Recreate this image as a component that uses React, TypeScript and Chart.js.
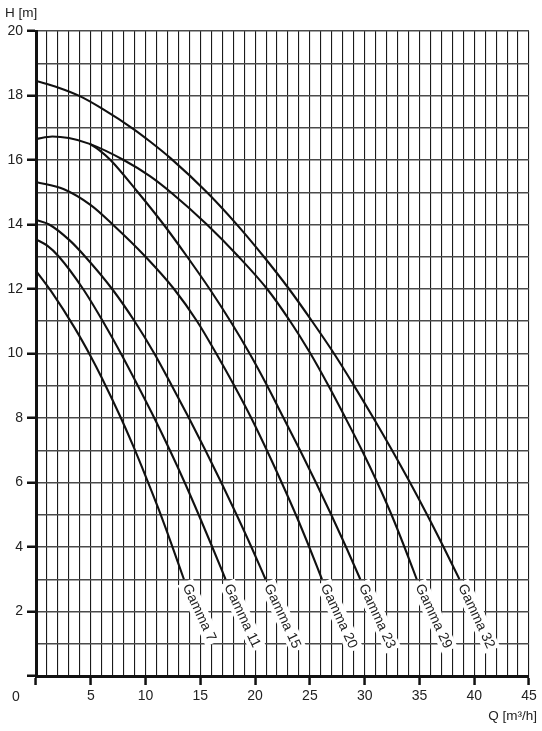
import React, { useEffect, useRef } from "react";
import { Chart, registerables } from "chart.js";

Chart.register(...registerables);

// ---- Data (Q in m³/h, H in m) ----
const SERIES_NAMES = ["Gamma 7", "Gamma 11", "Gamma 15", "Gamma 20", "Gamma 23", "Gamma 29", "Gamma 32"];

const G7_Q = [0, 1.5, 3.5, 5, 6, 7.7, 8.9, 10, 11.15, 12.3, 13.5];
const G7_H = [12.56, 11.87, 10.81, 9.91, 9.25, 8.04, 7.11, 6.2, 5.21, 4.15, 3.0];

const G11_Q = [0, 1, 2.1, 4.3, 6.1, 7.75, 9.3, 10.8, 12.22, 13.57, 14.85, 16.09, 17.3];
const G11_H = [13.54, 13.35, 13.0, 12.0, 11.0, 10.0, 9.0, 8.0, 7.0, 6.0, 5.0, 4.0, 3.0];

const G15_Q = [0, 1.2, 3.1, 4.5, 6.95, 9.0, 10.8, 12.4, 13.96, 15.46, 16.91, 18.31, 19.66, 20.95];
const G15_H = [14.14, 14.0, 13.5, 13.0, 12.0, 11.0, 10.0, 9.0, 8.0, 7.0, 6.0, 5.0, 4.0, 3.0];

const G20_Q = [0, 2.5, 5, 7, 10, 12.6, 14.7, 16.45, 18.1, 19.65, 21.07, 22.42, 23.72, 24.94, 26.1];
const G20_H = [15.32, 15.1, 14.6, 14.0, 13.0, 12.0, 11.0, 10.0, 9.0, 8.0, 7.0, 6.0, 5.0, 4.0, 3.0];

const G23_Q = [4.9, 5.8, 6.8, 9.3, 11.65, 13.8, 15.85, 17.75, 19.5, 21.1, 22.6, 24.1, 25.55, 26.95, 28.3, 29.6];
const G23_H = [16.5, 16.3, 16.0, 15.0, 14.0, 13.0, 12.0, 11.0, 10.0, 9.0, 8.0, 7.0, 6.0, 5.0, 4.0, 3.0];

const G29_Q = [0, 1.5, 3, 4.9, 8.0, 10.4, 12.3, 15.6, 18.5, 21.1, 23.2, 25.05, 26.7, 28.25, 29.75, 31.15, 32.45, 33.63, 34.75];
const G29_H = [16.65, 16.73, 16.68, 16.5, 16.0, 15.5, 15.0, 14.0, 13.0, 12.0, 11.0, 10.0, 9.0, 8.0, 7.0, 6.0, 5.0, 4.0, 3.0];

const G32_Q = [0, 2, 4, 6, 8.9, 10.5, 12.3, 15.6, 18.2, 20.8, 23.1, 25.2, 27.2, 29.0, 30.8, 32.5, 34.1, 35.7, 37.2, 38.65];
const G32_H = [18.45, 18.25, 17.98, 17.6, 16.96, 16.55, 16.05, 15.0, 14.05, 13.0, 12.0, 11.0, 10.0, 9.02, 8.0, 7.0, 6.02, 5.0, 4.0, 3.0];

const X_MIN = 0;
const X_MAX = 45;
const Y_MIN = 0;
const Y_MAX = 20;
const X_LABEL_EVERY = 5;
const Y_LABEL_EVERY = 2;
const Y_TITLE = "H [m]";
const X_TITLE = "Q [m³/h]";
const ORIGIN_LABEL = "0";

const SERIES_Q = [G7_Q, G11_Q, G15_Q, G20_Q, G23_Q, G29_Q, G32_Q];
const SERIES_H = [G7_H, G11_H, G15_H, G20_H, G23_H, G29_H, G32_H];

const FONT_FAMILY = '"Liberation Sans", Arial, sans-serif';
const TEXT_COLOR = "#222";

const curveLabelPlugin = {
  id: "curveLabels",
  afterDatasetsDraw(chart: any) {
    const ctx = chart.ctx;
    ctx.save();
    ctx.font = `14px ${FONT_FAMILY}`;
    chart.data.datasets.forEach((ds: any, i: number) => {
      const meta = chart.getDatasetMeta(i);
      const pt = meta.data[meta.data.length - 1];
      if (!pt) return;
      ctx.save();
      ctx.translate(pt.x, pt.y);
      ctx.rotate((65 * Math.PI) / 180);
      const w = ctx.measureText(ds.label).width;
      ctx.fillStyle = "#fff";
      ctx.fillRect(3, -8.5, w + 6, 17);
      ctx.fillStyle = TEXT_COLOR;
      ctx.textBaseline = "middle";
      ctx.textAlign = "left";
      ctx.fillText(ds.label, 6, 0.5);
      ctx.restore();
    });
    ctx.restore();
  },
  afterDraw(chart: any) {
    const ctx = chart.ctx;
    const area = chart.chartArea;
    ctx.save();
    ctx.font = `13.5px ${FONT_FAMILY}`;
    ctx.fillStyle = TEXT_COLOR;
    ctx.textBaseline = "alphabetic";
    ctx.textAlign = "left";
    ctx.fillText(Y_TITLE, area.left - 31, area.top - 14);
    ctx.textAlign = "right";
    ctx.fillText(X_TITLE, area.right + 8, area.bottom + 44);
    ctx.font = `14px ${FONT_FAMILY}`;
    ctx.textAlign = "center";
    ctx.textBaseline = "middle";
    ctx.fillText(ORIGIN_LABEL, area.left - 20, area.bottom + 21);
    ctx.restore();
  },
};

export default function App() {
  const canvasRef = useRef<HTMLCanvasElement | null>(null);

  useEffect(() => {
    document.body.style.margin = "0";
    const canvas = canvasRef.current;
    if (!canvas) return;

    const datasets = SERIES_NAMES.map((name, i) => ({
      label: name,
      data: SERIES_Q[i].map((q, j) => ({ x: q, y: SERIES_H[i][j] })),
      borderColor: "#111",
      borderWidth: 2.1,
      pointRadius: 0,
      fill: false,
      cubicInterpolationMode: "monotone" as const,
    }));

    const chart = new Chart(canvas, {
      type: "line",
      data: { datasets },
      plugins: [curveLabelPlugin],
      options: {
        animation: false,
        responsive: true,
        maintainAspectRatio: false,
        events: [],
        layout: { padding: { top: 31, right: 13, left: 0, bottom: 0 } },
        plugins: {
          legend: { display: false },
          tooltip: { enabled: false },
          title: { display: false },
        },
        scales: {
          x: {
            type: "linear",
            min: X_MIN,
            max: X_MAX,
            afterFit: (scale: any) => {
              scale.height = 55;
            },
            border: { display: true, color: "#111", width: 3 },
            grid: {
              color: (c: any) => (c.tick && c.tick.value === 0 ? "rgba(0,0,0,0)" : "#1a1a1a"),
              lineWidth: 1.1,
              drawTicks: true,
              tickLength: 9,
              tickWidth: 2.5,
              tickColor: (c: any) =>
                c.tick && c.tick.value % X_LABEL_EVERY === 0 ? "#111" : "rgba(0,0,0,0)",
            },
            ticks: {
              stepSize: 1,
              autoSkip: false,
              maxRotation: 0,
              padding: 3,
              color: TEXT_COLOR,
              font: { family: FONT_FAMILY, size: 14 },
              callback: (v: any) => (v !== 0 && v % X_LABEL_EVERY === 0 ? String(v) : ""),
            },
          },
          y: {
            type: "linear",
            min: Y_MIN,
            max: Y_MAX,
            afterFit: (scale: any) => {
              scale.width = 36;
            },
            border: { display: true, color: "#111", width: 3 },
            grid: {
              color: (c: any) => (c.tick && c.tick.value === 0 ? "rgba(0,0,0,0)" : "#4a4a4a"),
              lineWidth: 1.5,
              drawTicks: true,
              tickLength: 9,
              tickWidth: 2.5,
              tickColor: (c: any) =>
                c.tick && c.tick.value % Y_LABEL_EVERY === 0 ? "#111" : "rgba(0,0,0,0)",
            },
            ticks: {
              stepSize: 1,
              autoSkip: false,
              padding: 4,
              color: TEXT_COLOR,
              font: { family: FONT_FAMILY, size: 14 },
              callback: (v: any) => (v !== 0 && v % Y_LABEL_EVERY === 0 ? String(v) : ""),
            },
          },
        },
      },
    });

    return () => {
      chart.destroy();
    };
  }, []);

  return (
    <div style={{ position: "relative", width: 542, height: 731 }}>
      <canvas ref={canvasRef} />
    </div>
  );
}
